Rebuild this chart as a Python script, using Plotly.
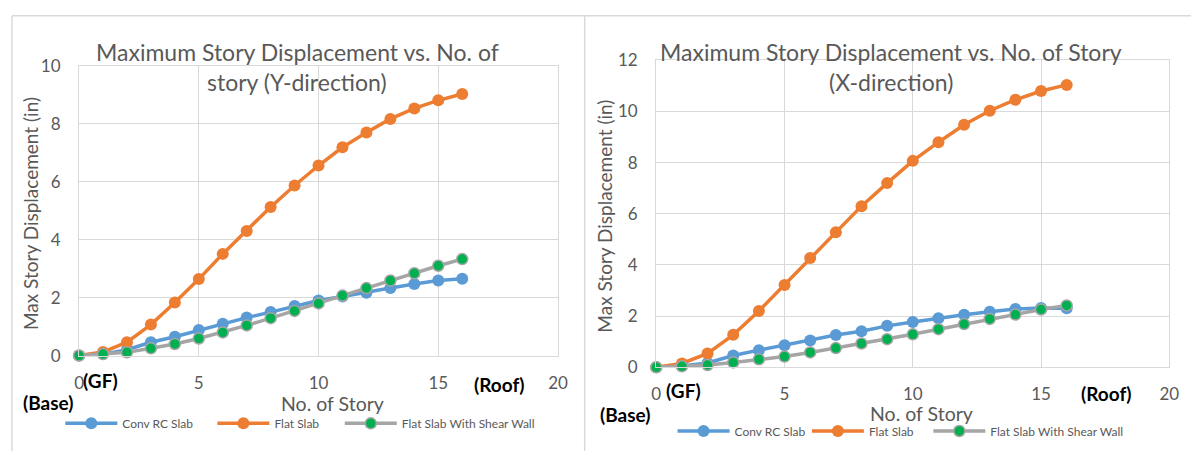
import plotly.graph_objects as go

W, H = 1203, 461

# Story numbers (0 = base, 16 = roof)
stories = list(range(17))

# Y-direction maximum story displacement (in)
conv_y = [0, 0.05, 0.20, 0.46, 0.65, 0.88, 1.10, 1.31, 1.50, 1.71, 1.90, 2.04, 2.17, 2.33, 2.47, 2.59, 2.65]
flat_y = [0, 0.12, 0.46, 1.07, 1.83, 2.64, 3.51, 4.30, 5.13, 5.87, 6.56, 7.19, 7.70, 8.17, 8.53, 8.81, 9.03]
wall_y = [0, 0.05, 0.11, 0.25, 0.40, 0.59, 0.80, 1.04, 1.29, 1.54, 1.80, 2.07, 2.33, 2.59, 2.84, 3.10, 3.33]

# X-direction maximum story displacement (in)
conv_x = [0, 0.05, 0.17, 0.46, 0.67, 0.86, 1.05, 1.26, 1.41, 1.62, 1.77, 1.92, 2.05, 2.17, 2.28, 2.32, 2.31]
flat_x = [0, 0.15, 0.54, 1.27, 2.20, 3.22, 4.27, 5.28, 6.30, 7.20, 8.07, 8.80, 9.48, 10.03, 10.46, 10.80, 11.04]
wall_x = [0, 0.04, 0.09, 0.19, 0.31, 0.42, 0.58, 0.75, 0.93, 1.10, 1.29, 1.49, 1.69, 1.89, 2.06, 2.26, 2.42]

series_names = ["Conv RC Slab", "Flat Slab", "Flat Slab With Shear Wall"]
x_ticks = [0, 5, 10, 15, 20]

BLUE, ORANGE, GREY, GREEN = "#5B9BD5", "#ED7D31", "#A5A5A5", "#00B050"
TXT = "#595959"
GRID = "#D9D9D9"
FONT = "Lato"


def px(x):
    return x / W


def py(y):
    return 1 - y / H


fig = go.Figure()

panels = [
    # (x axis, y axis, data, legends, legend x positions, legend y)
    ("x", "y", (conv_y, flat_y, wall_y), ("legend", "legend2", "legend3"), (56, 210, 339), 432),
    ("x2", "y2", (conv_x, flat_x, wall_x), ("legend4", "legend5", "legend6"), (676, 812, 935), 440),
]

for xa, ya, data, legs, _, _ in panels:
    styles = [
        dict(line=dict(color=BLUE, width=3.5), marker=dict(color=BLUE, size=12)),
        dict(line=dict(color=ORANGE, width=3.5), marker=dict(color=ORANGE, size=12)),
        dict(line=dict(color=GREY, width=3.5),
             marker=dict(color=GREEN, size=11, line=dict(color=GREY, width=1.5))),
    ]
    for name, vals, st, leg in zip(series_names, data, styles, legs):
        fig.add_trace(go.Scatter(
            x=stories, y=vals, name=name, mode="lines+markers",
            xaxis=xa, yaxis=ya, legend=leg, cliponaxis=False, **st))

axis_common = dict(
    showgrid=True, gridcolor=GRID, gridwidth=1.3,
    showline=True, linecolor=GRID, linewidth=1.3, mirror=True,
    zeroline=False, ticks="outside", tickcolor="rgba(0,0,0,0)",
    tickfont=dict(family=FONT, size=17, color=TXT),
)

fig.update_layout(
    width=W, height=H,
    margin=dict(l=0, r=0, t=0, b=0),
    paper_bgcolor="white", plot_bgcolor="white",
    showlegend=True,
    xaxis=dict(domain=[px(75), px(560)], range=[0, 20], tickvals=x_ticks,
               anchor="y", ticklen=12, **axis_common),
    yaxis=dict(domain=[py(361), py(57.5)], range=[0, 10], dtick=2,
               anchor="x", ticklen=14, **axis_common),
    xaxis2=dict(domain=[px(659.5), px(1179)], range=[0, 20], tickvals=x_ticks,
                anchor="y2", ticklen=11, **axis_common),
    yaxis2=dict(domain=[py(373.3), py(51.7)], range=[0, 12], dtick=2,
                anchor="x2", ticklen=14, **axis_common),
)

# One legend entry per legend box so each entry sits where it should
for _, _, _, legs, xs, ly in panels:
    for leg, lx in zip(legs, xs):
        fig.update_layout({leg: dict(
            x=px(lx), y=py(ly), xanchor="left", yanchor="middle",
            orientation="h", bgcolor="rgba(0,0,0,0)", borderwidth=0,
            itemwidth=52, font=dict(family=FONT, size=12, color=TXT),
        )})

annotations = []

# Chart titles
for cx, lines in [(296, ["Maximum Story Displacement vs. No. of", "story (Y-direction)"]),
                  (897, ["Maximum Story Displacement vs. No. of Story", "(X-direction)"])]:
    for cy, t in zip((43, 74), lines):
        annotations.append(dict(text=t, x=px(cx), y=py(cy), xref="paper", yref="paper",
                                xanchor="center", yanchor="middle", showarrow=False,
                                font=dict(family=FONT, size=23, color=TXT)))

# Axis titles
for cx, cy in [(332, 411), (928, 422)]:
    annotations.append(dict(text="No. of Story", x=px(cx), y=py(cy), xref="paper", yref="paper",
                            xanchor="center", yanchor="middle", showarrow=False,
                            font=dict(family=FONT, size=19.5, color=TXT)))
for cx, cy in [(26, 212), (607, 215)]:
    annotations.append(dict(text="Max Story Displacement (in)", x=px(cx), y=py(cy),
                            xref="paper", yref="paper", textangle=-90,
                            xanchor="center", yanchor="middle", showarrow=False,
                            font=dict(family=FONT, size=19, color=TXT)))

# Story markers on the x axis
for t, cx, cy in [("(GF)", 97, 387), ("(Roof)", 501, 391), ("(Base)", 44, 410),
                  ("(GF)", 687, 398), ("(Roof)", 1115, 401), ("(Base)", 628, 423)]:
    annotations.append(dict(text=f"<b>{t}</b>", x=px(cx), y=py(cy), xref="paper", yref="paper",
                            xanchor="center", yanchor="middle", showarrow=False,
                            font=dict(family=FONT, size=19, color="black")))

fig.update_layout(annotations=annotations)

# Chart frames
frame = dict(type="line", xref="paper", yref="paper", line=dict(color=GRID, width=1.5))
fig.update_layout(shapes=[
    dict(frame, x0=px(7), x1=px(1201), y0=py(5), y1=py(5)),
    dict(frame, x0=px(7), x1=px(7), y0=py(5), y1=0),
    dict(frame, x0=px(587), x1=px(587), y0=py(5), y1=0),
])

fig.write_html("out.html")
